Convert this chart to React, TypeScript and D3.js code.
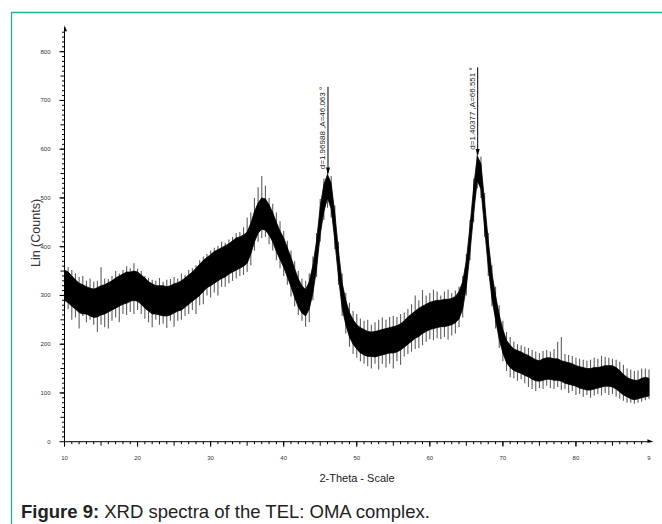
import React from 'react';
import * as d3 from 'd3';

// 2-theta sampling grid (degrees), 0.5° steps from 10 to 90
const twoTheta: number[] = d3.range(0, 161).map((i) => 10 + i * 0.5);

// Dense (black) part of the noisy trace, counts
const bandLow = [
  290, 285, 278, 272, 265, 262, 262, 258, 255, 256,
  260, 262, 266, 270, 274, 278, 282, 284, 288, 290,
  288, 282, 274, 268, 262, 262, 260, 258, 258, 260,
  264, 268, 270, 276, 282, 288, 294, 300, 308, 316,
  320, 325, 330, 335, 338, 344, 348, 352, 356, 360,
  366, 385, 410, 428, 436, 434, 424, 410, 390, 374,
  358, 338, 318, 296, 276, 264, 258, 272, 305, 355,
  425, 472, 500, 478, 412, 338, 274, 240, 215, 200,
  190, 182, 178, 175, 175, 174, 176, 178, 180, 182,
  182, 184, 188, 194, 200, 206, 212, 216, 222, 226,
  230, 232, 234, 236, 236, 238, 240, 244, 252, 272,
  318, 388, 468, 536, 518, 438, 358, 294, 250, 210,
  182, 162, 152, 146, 143, 140, 136, 133, 128, 125,
  124, 126, 128, 128, 126, 126, 124, 120, 118, 116,
  114, 110, 108, 106, 106, 108, 110, 112, 114, 114,
  112, 108, 102, 96, 92, 88, 86, 88, 90, 92,
  94,
];
const bandHigh = [
  352, 348, 340, 332, 325, 322, 318, 315, 313, 316,
  320, 322, 326, 330, 336, 340, 344, 348, 348, 350,
  348, 342, 336, 328, 324, 320, 320, 320, 318, 320,
  324, 326, 330, 336, 342, 348, 356, 364, 372, 378,
  384, 390, 394, 398, 402, 406, 412, 418, 420, 424,
  430, 448, 472, 490, 500, 498, 486, 470, 450, 432,
  418, 398, 378, 355, 334, 320, 312, 328, 362, 412,
  482, 528, 548, 530, 468, 392, 326, 290, 265, 250,
  240, 234, 230, 226, 225, 226, 228, 230, 232, 234,
  236, 238, 242, 248, 256, 262, 268, 274, 278, 282,
  286, 288, 290, 290, 292, 292, 294, 298, 308, 328,
  372, 442, 522, 586, 570, 492, 412, 346, 300, 260,
  230, 208, 198, 190, 187, 184, 180, 177, 172, 168,
  166, 170, 172, 172, 170, 170, 166, 164, 162, 160,
  156, 154, 152, 150, 150, 152, 152, 154, 156, 156,
  156, 152, 146, 138, 132, 128, 126, 126, 130, 132,
  130,
];
// Extremes of the grey noise spikes, counts
const spikeLow = [
  268, 272, 250, 255, 232, 258, 245, 250, 240, 225,
  240, 235, 232, 248, 255, 245, 262, 260, 266, 262,
  270, 262, 252, 245, 235, 250, 240, 242, 233, 248,
  236, 248, 250, 258, 262, 270, 262, 280, 282, 300,
  296, 306, 300, 318, 318, 325, 330, 335, 340, 342,
  348, 362, 392, 410, 418, 420, 405, 392, 372, 356,
  340, 322, 298, 278, 260, 248, 236, 245, 290, 338,
  410, 455, 480, 460, 395, 322, 258, 222, 195, 180,
  172, 165, 160, 155, 150, 160, 148, 160, 152, 160,
  150, 165, 158, 175, 180, 185, 190, 192, 198, 205,
  210, 208, 212, 210, 215, 209, 218, 222, 235, 255,
  300, 372, 450, 520, 500, 420, 340, 278, 232, 192,
  165, 145, 132, 130, 125, 128, 120, 112, 108, 104,
  110, 108, 115, 110, 108, 112, 106, 108, 100, 104,
  96, 98, 92, 96, 90, 95, 98, 95, 100, 96,
  98, 92, 88, 84, 80, 80, 78, 80, 82, 85,
  88,
];
const spikeHigh = [
  362, 358, 352, 345, 338, 340, 330, 335, 328, 330,
  358, 335, 334, 340, 350, 345, 352, 360, 356, 366,
  355, 350, 340, 336, 332, 330, 336, 328, 332, 334,
  338, 335, 345, 342, 352, 356, 362, 372, 380, 385,
  392, 398, 402, 410, 408, 415, 420, 428, 430, 440,
  460, 470, 500, 522, 545, 525, 500, 488, 470, 452,
  432, 412, 392, 370, 350, 335, 330, 345, 380, 428,
  498, 540, 555, 545, 485, 410, 345, 305, 285, 268,
  262, 252, 248, 250, 240, 245, 250, 255, 250, 256,
  258, 256, 262, 265, 272, 282, 300, 290, 311, 300,
  305, 312, 308, 300, 308, 312, 305, 310, 318, 340,
  385, 455, 540, 594, 585, 510, 428, 362, 318, 280,
  248, 225, 215, 205, 200, 198, 195, 192, 188, 185,
  182, 186, 188, 185, 190, 205, 215, 180, 178, 176,
  172, 170, 168, 166, 168, 172, 170, 176, 174, 172,
  170, 168, 164, 158, 150, 148, 145, 146, 150, 150,
  148,
];

// Axis ticks
const xTickValues = [10, 20, 30, 40, 50, 60, 70, 80, 90];
const xTickLabels = ['10', '20', '30', '40', '50', '60', '70', '80', '9'];
const yTickValues = [0, 100, 200, 300, 400, 500, 600, 700, 800];
const yTickLabels = ['0', '100', '200', '300', '400', '500', '600', '700', '800'];

// Peak markers
const peakTheta = [46.063, 66.551];
const peakTop = [728, 768];
const peakBase = [552, 590];
const peakLabels = ['d=1.96988 ,A=46.063 °', 'd=1.40377 ,A=66.551 °'];

const xTitle = '2-Theta - Scale';
const yTitle = 'Lin (Counts)';
const captionBold = 'Figure 9:';
const captionRest = ' XRD spectra of the TEL: OMA complex.';

export default function App() {
  const W = 662;
  const H = 524;
  const x = d3.scaleLinear().domain([10, 90]).range([64.5, 649]);
  const y = d3.scaleLinear().domain([0, 800]).range([441.7, 51.7]);
  const x0 = x(10);
  const y0 = y(0);
  const yAxisTop = y(850);
  const xAxisEnd = x(90.2);

  const idx = twoTheta.map((_, i) => i);
  const band = d3
    .area<number>()
    .x((i) => x(twoTheta[i]))
    .y0((i) => y(bandLow[i]))
    .y1((i) => y(bandHigh[i]));

  const xMinor = d3.range(11, 90, 1);
  const yMinor = d3.range(10, 850, 10);
  const tickFont = "'Liberation Sans Narrow', 'Liberation Sans', Arial, sans-serif";

  return (
    <svg
      width={W}
      height={H}
      style={{ position: 'absolute', left: 0, top: 0, background: '#fff' }}
    >
      {/* frame */}
      <line x1={11} y1={12.5} x2={W} y2={12.5} stroke="#1fb39c" strokeWidth={1.3} />
      <line x1={11.5} y1={12} x2={11.5} y2={H} stroke="#1fb39c" strokeWidth={1.3} />

      {/* noise spikes */}
      <g stroke="#5e5e5e" strokeWidth={1.1}>
        {idx.map((i) => (
          <line
            key={i}
            x1={x(twoTheta[i])}
            x2={x(twoTheta[i])}
            y1={y(spikeLow[i])}
            y2={y(spikeHigh[i])}
          />
        ))}
      </g>
      {/* dense trace */}
      <path d={band(idx) || ''} fill="#000" stroke="#000" strokeWidth={0.8} />

      {/* axes */}
      <g stroke="#000" strokeWidth={1} fill="none">
        <line x1={x0} y1={y0} x2={xAxisEnd} y2={y0} />
        <line x1={x0} y1={y0} x2={x0} y2={yAxisTop} />
        {xMinor.map((v) => (
          <line key={'xm' + v} x1={x(v)} x2={x(v)} y1={y0} y2={y0 + (v % 5 === 0 ? 4 : 2.5)} />
        ))}
        {xTickValues.slice(0, -1).map((v) => (
          <line key={'xM' + v} x1={x(v)} x2={x(v)} y1={y0} y2={y0 + 5} />
        ))}
        {yMinor.map((v) => (
          <line key={'ym' + v} x1={x0} x2={x0 - (v % 50 === 0 ? 4 : 2.5)} y1={y(v)} y2={y(v)} />
        ))}
        {yTickValues.map((v) => (
          <line key={'yM' + v} x1={x0} x2={x0 - 5} y1={y(v)} y2={y(v)} />
        ))}
      </g>
      <path
        d={`M${xAxisEnd + 3},${y0} L${xAxisEnd - 3},${y0 - 2.5} L${xAxisEnd - 3},${y0 + 1} Z`}
        fill="#000"
      />
      <path d={`M${x0},${yAxisTop - 2} L${x0 + 2.5},${yAxisTop + 4} L${x0 - 0.5},${yAxisTop + 4} Z`} fill="#000" />

      {/* tick labels */}
      <g fontFamily={tickFont} fontSize={6} fill="#333">
        {xTickValues.map((v, i) => (
          <text key={'xl' + v} x={x(v)} y={y0 + 18} textAnchor="middle">
            {xTickLabels[i]}
          </text>
        ))}
        {yTickValues.map((v, i) => (
          <text key={'yl' + v} x={x0 - 14} y={y(v) + 2} textAnchor="end">
            {yTickLabels[i]}
          </text>
        ))}
      </g>

      {/* axis titles */}
      <text
        x={357}
        y={482}
        textAnchor="middle"
        fontFamily={tickFont}
        fontSize={11}
        fill="#222"
      >
        {xTitle}
      </text>
      <text
        transform={`translate(40,233) rotate(-90)`}
        textAnchor="middle"
        fontFamily="'Liberation Sans', Arial, sans-serif"
        fontSize={12.5}
        fill="#333"
      >
        {yTitle}
      </text>

      {/* peak markers */}
      {peakTheta.map((t, i) => (
        <g key={'pk' + i}>
          <line x1={x(t)} x2={x(t)} y1={y(peakTop[i])} y2={y(peakBase[i])} stroke="#000" strokeWidth={1} />
          <path
            d={`M${x(t)},${y(peakBase[i]) + 2} L${x(t) - 2},${y(peakBase[i]) - 5} L${x(t) + 2},${y(peakBase[i]) - 5} Z`}
            fill="#000"
          />
          <text
            transform={`translate(${x(t) - 2.5},${y(peakTop[i])}) rotate(-90)`}
            textAnchor="end"
            fontFamily={tickFont}
            fontSize={8}
            fill="#222"
          >
            {peakLabels[i]}
          </text>
        </g>
      ))}

      {/* caption */}
      <text x={21} y={518} fontFamily="'Liberation Sans', Arial, sans-serif" fontSize={18.5} fill="#222">
        <tspan fontWeight="bold">{captionBold}</tspan>
        {captionRest}
      </text>
    </svg>
  );
}
